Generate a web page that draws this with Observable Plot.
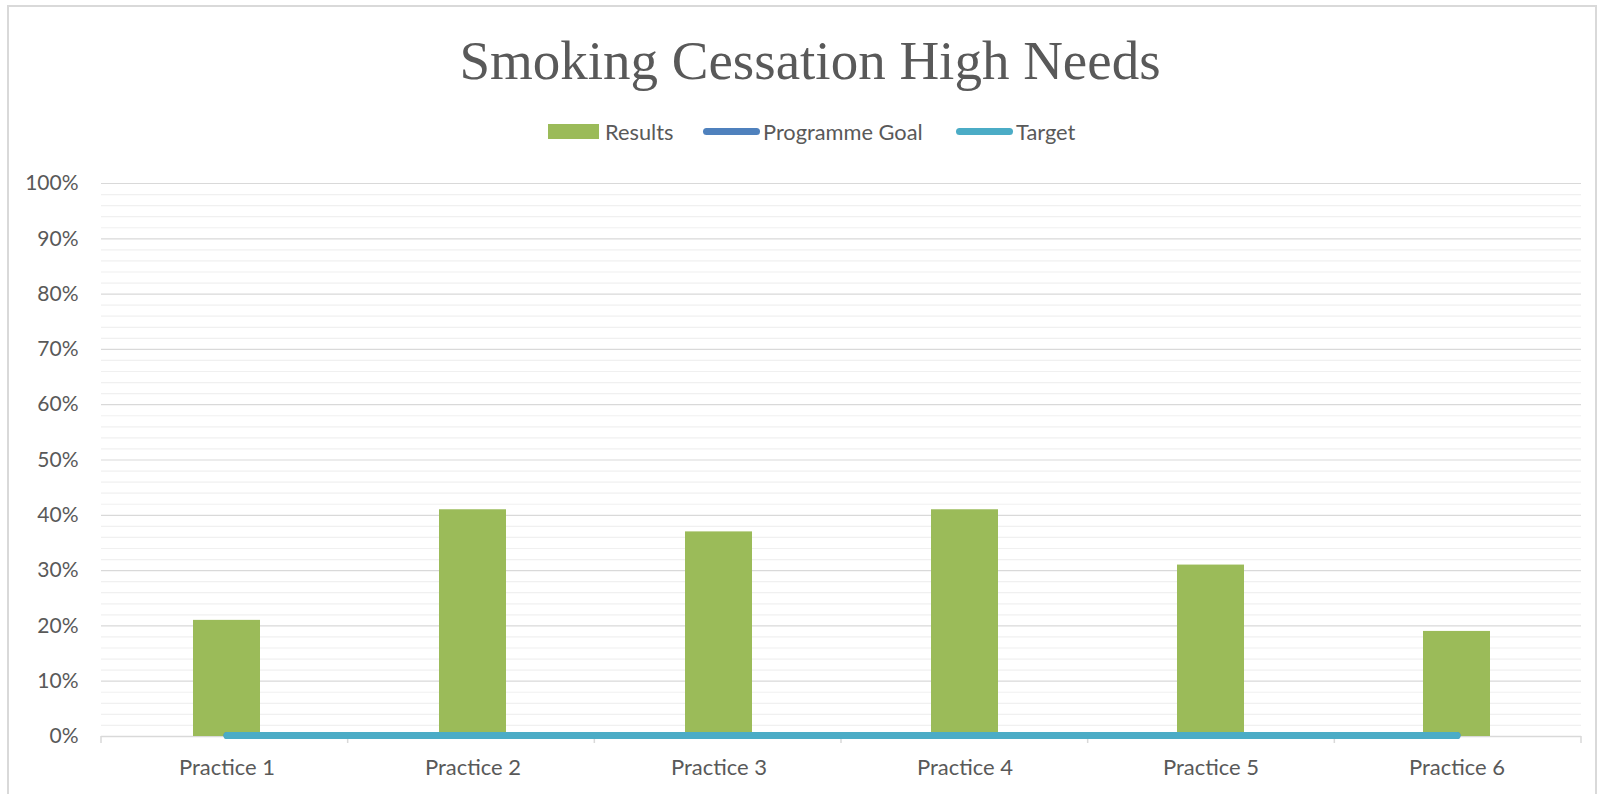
<!DOCTYPE html>
<html>
<head>
<meta charset="utf-8">
<script src="https://cdn.jsdelivr.net/npm/d3@7"></script>
<script src="https://cdn.jsdelivr.net/npm/@observablehq/plot@0.6"></script>
<style>
  body { margin: 0; background: #fff; }
  #wrap { position: relative; width: 1598px; height: 794px; overflow: hidden; font-family: Lato, sans-serif; color: #595959; background: #fff; }
  #frame { position: absolute; left: 7px; top: 5px; width: 1590px; height: 820px; border: 2px solid #d9d9d9; box-sizing: border-box; }
  #title { position: absolute; left: 0; top: 33px; width: 1620px; text-align: center; font-family: "Liberation Serif", serif; font-size: 55px; line-height: 1; color: #595959; white-space: nowrap; }
  #legend { position: absolute; top: 118px; left: 0; width: 1598px; height: 26px; }
  .item { position: absolute; top: 0; height: 26px; display: flex; align-items: center; font-size: 21.8px; color: #595959; white-space: nowrap; }
  .sw { display: inline-block; }
  #chart { position: absolute; left: 0; top: 150px; }
</style>
</head>
<body>
<div id="wrap">
  <div id="frame"></div>
  <div id="title"></div>
  <div id="legend"></div>
  <div id="chart"></div>
</div>
<script>
// ---- data ----
const chartTitle = "Smoking Cessation High Needs";
const practices = ["Practice 1", "Practice 2", "Practice 3", "Practice 4", "Practice 5", "Practice 6"];
const results = [0.21, 0.41, 0.37, 0.41, 0.31, 0.19];
const programmeGoal = [0, 0, 0, 0, 0, 0];
const target = [0, 0, 0, 0, 0, 0];
const yTickValues = [0, 0.1, 0.2, 0.3, 0.4, 0.5, 0.6, 0.7, 0.8, 0.9, 1.0];
const yTickLabels = ["0%", "10%", "20%", "30%", "40%", "50%", "60%", "70%", "80%", "90%", "100%"];
const yMinorValues = [0.02,0.04,0.06,0.08,0.12,0.14,0.16,0.18,0.22,0.24,0.26,0.28,0.32,0.34,0.36,0.38,
  0.42,0.44,0.46,0.48,0.52,0.54,0.56,0.58,0.62,0.64,0.66,0.68,0.72,0.74,0.76,0.78,0.82,0.84,0.86,0.88,0.92,0.94,0.96,0.98];
const seriesNames = ["Results", "Programme Goal", "Target"];
const seriesColors = ["#9bbb59", "#4f81bd", "#4bacc6"];

// ---- title & legend ----
document.getElementById("title").textContent = chartTitle;
const legendLeft = [548, 703, 956];
const legend = d3.select("#legend");
seriesNames.forEach((name, i) => {
  const it = legend.append("div").attr("class", "item").style("left", legendLeft[i] + "px");
  if (i === 0) {
    it.append("span").attr("class", "sw").style("width", "51px").style("height", "15px").style("background", seriesColors[i]).style("margin-right", "6px");
  } else {
    it.append("span").attr("class", "sw").style("width", "57px").style("height", "7px").style("border-radius", "4px").style("background", seriesColors[i]).style("margin-right", "3px");
  }
  it.append("span").text(name);
});

// ---- plot ----
const rows = practices.map((p, i) => ({practice: p, result: results[i], goal: programmeGoal[i], target: target[i]}));
const W = 1598, H = 644, ML = 101, MR = 17, MT = 33, MB = 58;

const boundaryTicks = (index, scales, values, dims) => {
  const g = d3.create("svg:g");
  const n = practices.length;
  const x0 = dims.marginLeft, x1 = dims.width - dims.marginRight;
  const y0 = scales.y(0);
  for (let i = 0; i <= n; i++) {
    const x = x0 + (x1 - x0) * i / n;
    g.append("line").attr("x1", x).attr("x2", x).attr("y1", y0).attr("y2", y0 + 7)
      .attr("stroke", "#d9d9d9").attr("stroke-width", 1.5);
  }
  return g.node();
};

const plot = Plot.plot({
  width: W, height: H,
  marginLeft: ML, marginRight: MR, marginTop: MT, marginBottom: MB,
  style: {fontFamily: "Lato, sans-serif", fontSize: "21px", color: "#595959", background: "transparent"},
  x: {domain: practices, paddingInner: 0.728, paddingOuter: 0.364, label: null},
  y: {domain: [0, 1], label: null},
  marks: [
    Plot.ruleY(yMinorValues, {stroke: "#f0f0f0", strokeWidth: 1.2}),
    Plot.ruleY(yTickValues.slice(1), {stroke: "#d9d9d9", strokeWidth: 1.2}),
    Plot.ruleY([0], {stroke: "#d9d9d9", strokeWidth: 1.5}),
    boundaryTicks,
    Plot.barY(rows, {x: "practice", y: "result", fill: seriesColors[0]}),
    Plot.lineY(rows, {x: "practice", y: "goal", stroke: seriesColors[1], strokeWidth: 7, strokeLinecap: "round", dy: -1}),
    Plot.lineY(rows, {x: "practice", y: "target", stroke: seriesColors[2], strokeWidth: 7, strokeLinecap: "round", dy: -1}),
    Plot.axisY({ticks: yTickValues, tickFormat: (d) => yTickLabels[yTickValues.indexOf(d)], tickSize: 0, tickPadding: 23, fill: "#595959", fontSize: 21, label: null}),
    Plot.axisX({tickSize: 0, tickPadding: 23, fill: "#595959", fontSize: 22, label: null})
  ]
});
document.getElementById("chart").appendChild(plot);
</script>
</body>
</html>
